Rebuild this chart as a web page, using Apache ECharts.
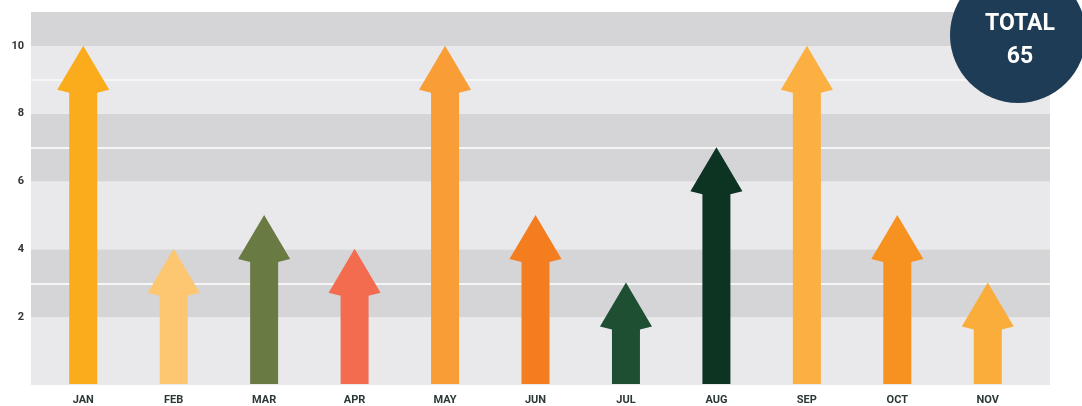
<!DOCTYPE html>
<html>
<head>
<meta charset="utf-8">
<script src="https://cdn.jsdelivr.net/npm/echarts@6/dist/echarts.min.js"></script>
<style>
  html, body { margin: 0; padding: 0; background: #fff; }
  #chart { width: 1082px; height: 406px; }
</style>
</head>
<body>
<div id="chart"></div>
<script>
// data
const months = ['JAN', 'FEB', 'MAR', 'APR', 'MAY', 'JUN', 'JUL', 'AUG', 'SEP', 'OCT', 'NOV']
const values = [10, 4, 5, 4, 10, 5, 3, 7, 10, 5, 3]
const total = 65
const colors = ['#fbac1c', '#fdc772', '#6a7a43', '#f36c50', '#f99d36', '#f47d20',
  '#1f4f33', '#0d3322', '#fbb041', '#f7911f', '#fbad3b']

const chart = echarts.init(document.getElementById('chart'))
const font = 'Roboto, "DejaVu Sans", sans-serif'

// arrow: fixed-size head, shaft stretched down to 0
function renderArrow(params, api) {
  const top = api.coord([api.value(0), api.value(1)])
  const base = api.coord([api.value(0), 0])
  const x = top[0], ty = top[1], by = base[1]
  const hw = 26, sw = 14, hh = 44
  return {
    type: 'polygon',
    shape: {
      points: [
        [x, ty], [x + hw, ty + hh], [x + sw, ty + hh + 3], [x + sw, by],
        [x - sw, by], [x - sw, ty + hh + 3], [x - hw, ty + hh]
      ]
    },
    style: { fill: colors[params.dataIndex] }
  }
}

let option = {
  animation: false,
  grid: [
    { left: 31, right: 32, top: 12, bottom: 21 },
    { left: 38, right: 49, top: 12, bottom: 21 }
  ],
  xAxis: [
    { gridIndex: 0, type: 'value', min: 0, max: 1, show: false },
    {
      gridIndex: 1,
      type: 'category',
      data: months,
      axisLine: { show: false },
      axisTick: { show: false },
      axisLabel: {
        margin: 11,
        color: '#2c3838',
        fontFamily: font,
        fontWeight: 'bold',
        fontSize: 11
      }
    }
  ],
  yAxis: [
    {
      gridIndex: 0,
      type: 'value',
      min: 0,
      max: 11,
      interval: 2,
      axisLine: { show: false },
      axisTick: { show: false },
      splitLine: { show: false },
      splitArea: {
        show: true,
        areaStyle: { color: ['#e9e9eb', '#d5d5d7'] }
      },
      axisLabel: {
        showMinLabel: false,
        showMaxLabel: false,
        margin: 7,
        color: '#333',
        fontFamily: font,
        fontWeight: 'bold',
        fontSize: 11
      }
    },
    { gridIndex: 1, type: 'value', min: 0, max: 11, show: false }
  ],
  series: [
    {
      type: 'line',
      xAxisIndex: 0,
      yAxisIndex: 0,
      data: [],
      silent: true,
      z: 1,
      markLine: {
        silent: true,
        symbol: 'none',
        label: { show: false },
        lineStyle: { color: '#f6f6f7', type: 'solid', width: 2 },
        data: [{ yAxis: 3 }, { yAxis: 7 }, { yAxis: 9 }]
      }
    },
    {
      type: 'custom',
      xAxisIndex: 1,
      yAxisIndex: 1,
      z: 5,
      renderItem: renderArrow,
      data: months.map((m, i) => [i, values[i]])
    }
  ],
  graphic: [
    {
      type: 'circle',
      zlevel: 1,
      z: 100,
      shape: { cx: 1018, cy: 35, r: 68 },
      style: { fill: '#1e3c55' }
    },
    {
      type: 'text',
      zlevel: 1,
      z: 101,
      x: 1020,
      y: 24,
      style: {
        text: 'TOTAL',
        fill: '#fff',
        font: 'bold 23px ' + font,
        align: 'center',
        verticalAlign: 'middle'
      }
    },
    {
      type: 'text',
      zlevel: 1,
      z: 101,
      x: 1020,
      y: 57,
      style: {
        text: String(total),
        fill: '#fff',
        font: 'bold 23px ' + font,
        align: 'center',
        verticalAlign: 'middle'
      }
    }
  ]
}
chart.setOption(option)
</script>
</body>
</html>
